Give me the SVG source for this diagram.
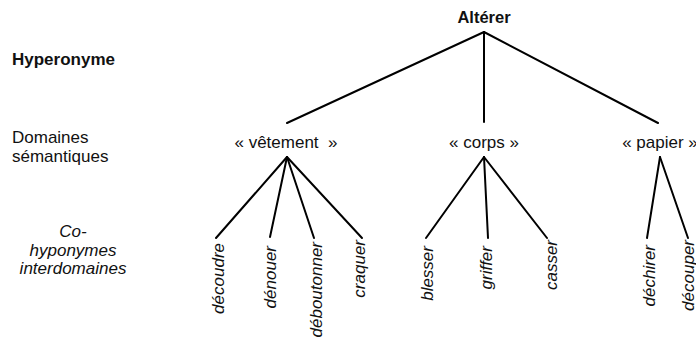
<svg xmlns="http://www.w3.org/2000/svg" width="696" height="343" viewBox="0 0 696 343">
  <style>
    text { font-family: "Liberation Sans", Arial, sans-serif; fill: #111; }
    .head { font-weight: bold; }
    .lbl { font-size: 17px; }
    .dom { font-size: 17px; text-anchor: middle; }
    .leaf { font-size: 17px; font-style: italic; text-anchor: end; }
    .edge { stroke: #000; stroke-width: 2; fill: none; stroke-linecap: round; }
  </style>
  <rect width="696" height="343" fill="#fff"/>

  <!-- level captions -->
  <g id="caption-hyperonyme">
    <text class="lbl head" x="12" y="65" font-size="17.5">Hyperonyme</text>
  </g>
  <g id="caption-domaines">
    <text class="lbl" x="12" y="143">Domaines</text>
    <text class="lbl" x="12" y="162">sémantiques</text>
  </g>
  <g id="caption-cohyponymes" font-style="italic">
    <text class="lbl" x="73" y="237" text-anchor="middle">Co-</text>
    <text class="lbl" x="73" y="256" text-anchor="middle">hyponymes</text>
    <text class="lbl" x="73" y="274" text-anchor="middle">interdomaines</text>
  </g>

  <!-- connectors -->
  <g id="edges" class="edge">
    <line x1="484" y1="32" x2="287" y2="123"/>
    <line x1="484" y1="32" x2="484" y2="122"/>
    <line x1="484" y1="32" x2="658" y2="123"/>
    <line x1="287" y1="157" x2="216" y2="238"/>
    <line x1="287" y1="157" x2="270" y2="237"/>
    <line x1="287" y1="157" x2="314" y2="238"/>
    <line x1="287" y1="157" x2="362" y2="238"/>
    <line x1="484" y1="157" x2="426" y2="238"/>
    <line x1="484" y1="157" x2="488" y2="238"/>
    <line x1="484" y1="157" x2="547" y2="238"/>
    <line x1="660" y1="157" x2="647" y2="238"/>
    <line x1="660" y1="157" x2="688" y2="238"/>
  </g>

  <!-- root -->
  <g id="node-alterer">
    <text class="head" x="484" y="23" font-size="16.5" text-anchor="middle">Altérer</text>
  </g>

  <!-- semantic domains -->
  <g id="node-vetement"><text class="dom" x="286" y="148" font-size="16" xml:space="preserve">« vêtement  »</text></g>
  <g id="node-corps"><text class="dom" x="484" y="148">« corps »</text></g>
  <g id="node-papier"><text class="dom" x="660" y="148">« papier »</text></g>

  <!-- co-hyponyms, written bottom-to-top -->
  <g id="node-decoudre"><text class="leaf" transform="translate(224 243) rotate(-90)">découdre</text></g>
  <g id="node-denouer"><text class="leaf" transform="translate(276 246) rotate(-90)">dénouer</text></g>
  <g id="node-deboutonner"><text class="leaf" transform="translate(322 242) rotate(-90)">déboutonner</text></g>
  <g id="node-craquer"><text class="leaf" transform="translate(365 240) rotate(-90)">craquer</text></g>
  <g id="node-blesser"><text class="leaf" transform="translate(433 246) rotate(-90)">blesser</text></g>
  <g id="node-griffer"><text class="leaf" transform="translate(492 246) rotate(-90)">griffer</text></g>
  <g id="node-casser"><text class="leaf" transform="translate(557 240) rotate(-90)">casser</text></g>
  <g id="node-dechirer"><text class="leaf" transform="translate(655 245) rotate(-90)">déchirer</text></g>
  <g id="node-decouper"><text class="leaf" transform="translate(694 240) rotate(-90)">découper</text></g>
</svg>
